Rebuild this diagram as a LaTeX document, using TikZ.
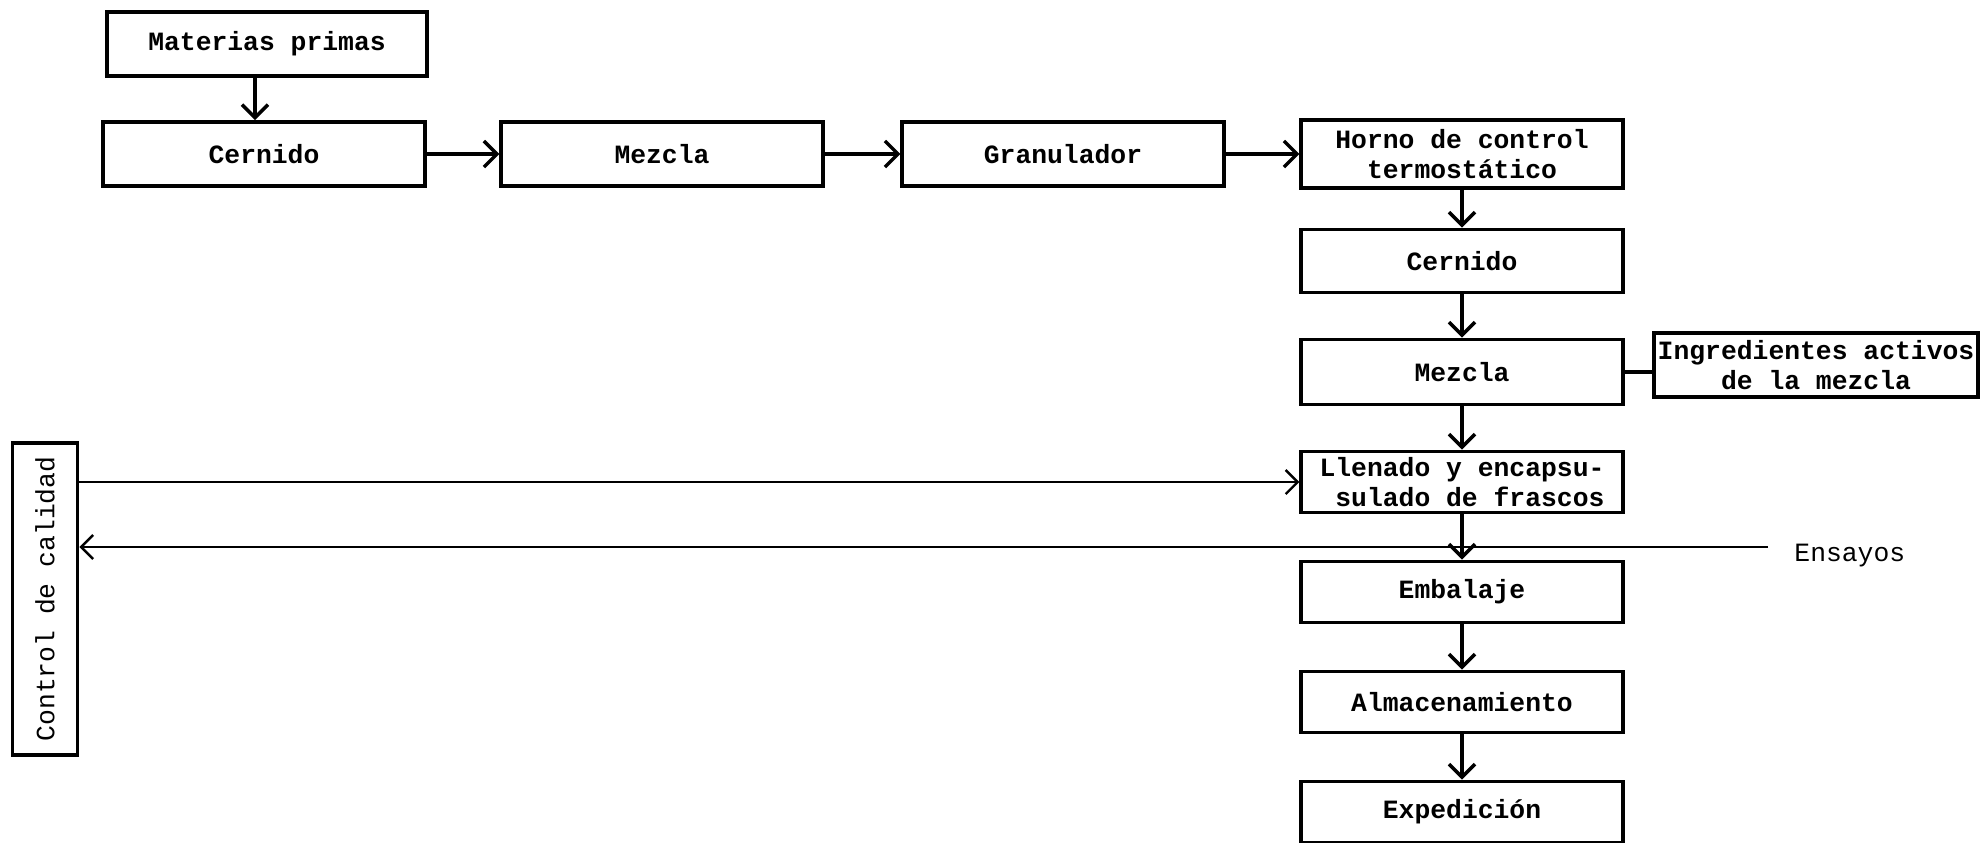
\documentclass[tikz,border=0pt]{standalone}
\usepackage{fontspec}
\setmonofont{Liberation Mono}
\usetikzlibrary{arrows.meta}

\begin{document}
\begin{tikzpicture}[x=0.01cm, y=-0.01cm,
      font=\ttfamily\fontsize{7.5}{8.4}\selectfont,
      paso/.style={draw, line width=1.1pt, align=center, inner sep=0pt,
                   minimum width=3.21cm, minimum height=0.64cm,
                   font=\ttfamily\bfseries\fontsize{7.5}{8.4}\selectfont},
      flecha/.style={line width=1pt, -{Straight Barb[length=1.3mm, width=2.6mm]}},
      enlace/.style={line width=0.7pt}]
    \useasboundingbox (0,0) rectangle (1981,842);
    % fila superior
    \node[paso, minimum width=3.20cm] (mat) at (267,44) {Materias primas};
    \node[paso] (cer1) at (264,154) {Cernido};
    \node[paso] (mez1) at (662,154) {Mezcla};
    \node[paso] (gran) at (1063,154) {Granulador};
    \node[paso, minimum height=0.68cm] (horno) at (1462,154) {Horno de control\\termostático};
    % columna derecha
    \node[paso, minimum height=0.63cm] (cer2) at (1462,261) {Cernido};
    \node[paso, minimum height=0.65cm] (mez2) at (1462,372) {Mezcla};
    \node[paso, minimum width=3.23cm] (ingr) at (1816,365) {Ingredientes activos\\de la mezcla};
    \node[paso, minimum height=0.61cm] (llen) at (1462,482) {Llenado y encapsu-\\\ sulado de frascos};
    \node[paso, minimum height=0.61cm] (emb) at (1462,592) {Embalaje};
    \node[paso, minimum height=0.61cm] (alm) at (1462,702) {Almacenamiento};
    \node[paso, minimum height=0.61cm] (exped) at (1462,812) {Expedición};
    % control de calidad (girado: su lado sur queda a la derecha)
    \node[draw, line width=1.1pt, rotate=90, inner sep=0pt,
          minimum width=3.12cm, minimum height=0.65cm] (ctrl) at (45,599) {Control de calidad};
    \node[anchor=west] (ens) at (1782,556) {Ensayos};
    \coordinate (enstip) at (1768,547);

    \draw[flecha] ([xshift=-1.2mm]mat.south) -- ([xshift=-1.2mm]mat.south |- cer1.north);
    \draw[flecha] (cer1) -- (mez1);
    \draw[flecha] (mez1) -- (gran);
    \draw[flecha] (gran) -- (horno);
    \draw[flecha] (horno) -- (cer2);
    \draw[flecha] (cer2) -- (mez2);
    \draw[flecha] (mez2) -- (llen);
    \draw[flecha] (llen) -- (emb);
    \draw[flecha] (emb) -- (alm);
    \draw[flecha] (alm) -- (exped);
    \draw[line width=1pt] (mez2.east) -- (mez2.east -| ingr.west);
    \draw[enlace, -{Straight Barb[length=1.2mm, width=2.4mm]}] (ctrl.south |- llen.west) -- (llen.west);
    \draw[enlace, -{Straight Barb[length=1.2mm, width=2.4mm]}] (enstip) -- (ctrl.south |- enstip);
  \end{tikzpicture}
\end{document}
